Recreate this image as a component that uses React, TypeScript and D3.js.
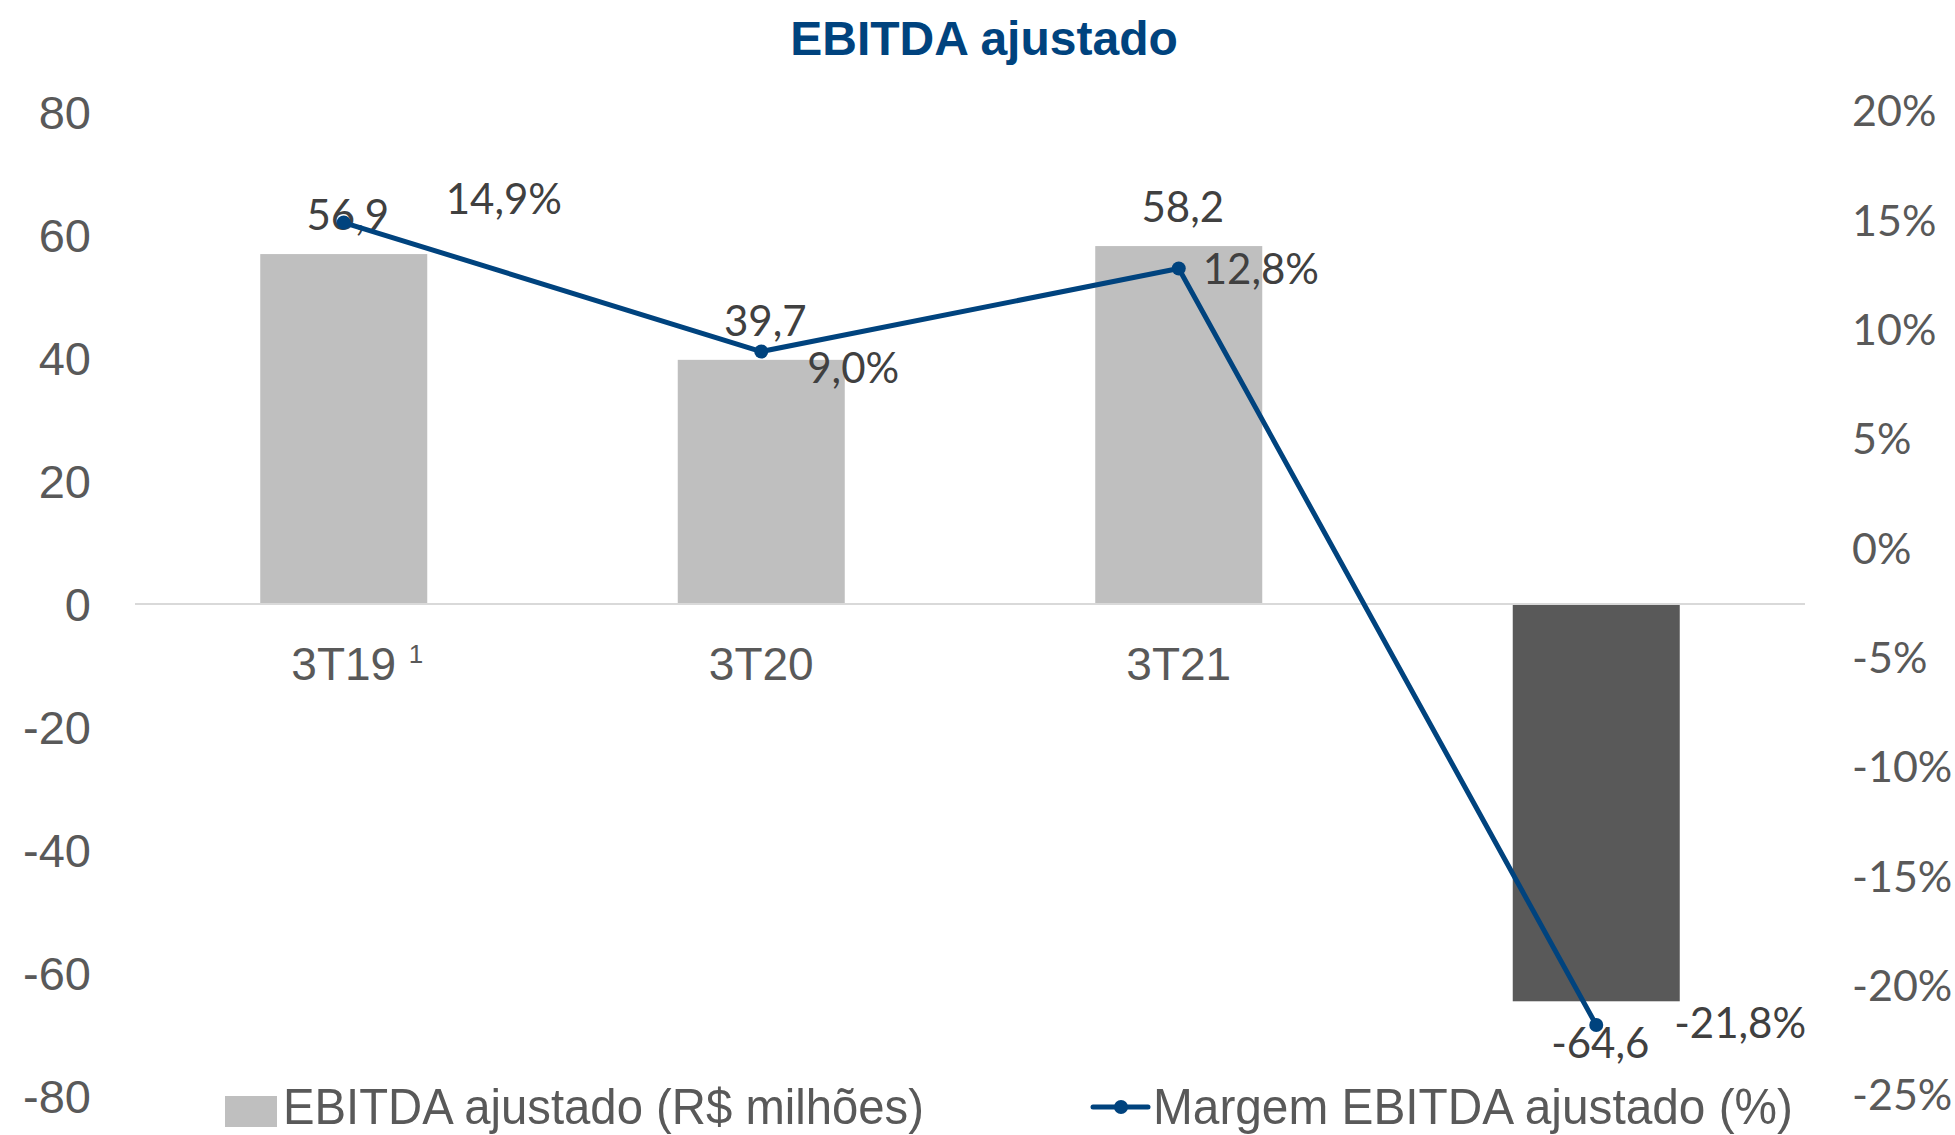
import React from "react";
import * as d3 from "d3";

// ---- data ----
const categories = ["3T19", "3T20", "3T21", ""];
const ebitda = [56.9, 39.7, 58.2, -64.6];
const margem = [0.149, 0.09, 0.128, -0.218];
const barColors = ["#BFBFBF", "#BFBFBF", "#BFBFBF", "#595959"];
const leftTicks = [-80, -60, -40, -20, 0, 20, 40, 60, 80];
const rightTicks = [-0.25, -0.2, -0.15, -0.1, -0.05, 0, 0.05, 0.1, 0.15, 0.2];
const title = "EBITDA ajustado";
const legendBar = "EBITDA ajustado (R$ milhões)";
const legendLine = "Margem EBITDA ajustado (%)";
const footnoteMark = "1";

// label layout offsets for line labels (dx from point to left edge, dy baseline)
const lineLabelOffsets: [number, number][] = [
  [102, -9],
  [46, 31],
  [24, 16],
  [78, 13],
];

const W = 1955;
const H = 1135;

const ptBR = d3.formatLocale({
  decimal: ",",
  thousands: ".",
  grouping: [3],
  currency: ["R$", ""],
  minus: "-",
});
const fmtVal = ptBR.format(".1f");
const fmtPct = ptBR.format(".1%");
const fmtTickPct = (v: number) => `${Math.round(v * 100)}%`;

const AXIS_COLOR = "#595959";
const LABEL_COLOR = "#404040";
const BLUE = "#00437E";
const ARIAL = "'Liberation Sans', Arial, sans-serif";
const CALIBRI = "Lato, 'Open Sans', sans-serif";

export default function App() {
  const x = d3
    .scaleBand<string>()
    .domain(categories.map((c, i) => String(i)))
    .range([135, 1805])
    .paddingInner(0.6)
    .paddingOuter(0.3);
  const yL = d3.scaleLinear().domain([-80, 80]).range([1096, 112]);
  const yR = d3.scaleLinear().domain([-0.25, 0.2]).range([1095, 111]);

  const cx = (i: number) => (x(String(i)) as number) + x.bandwidth() / 2;
  const pts: [number, number][] = margem.map((m, i) => [cx(i), yR(m)]);
  const line = d3.line<[number, number]>()(pts) as string;

  return (
    <svg
      width={W}
      height={H}
      style={{ position: "absolute", left: 0, top: 0, background: "#fff" }}
    >
      <rect x={0} y={0} width={W} height={H} fill="#fff" />
      {/* title */}
      <text
        x={984}
        y={55}
        textAnchor="middle"
        fontFamily={ARIAL}
        fontWeight="bold"
        fontSize={48}
        fill={BLUE}
      >
        {title}
      </text>

      {/* left axis labels */}
      {leftTicks.map((t) => (
        <text
          key={"l" + t}
          x={91}
          y={yL(t)}
          dy="0.36em"
          textAnchor="end"
          fontFamily={ARIAL}
          fontSize={47}
          fill={AXIS_COLOR}
        >
          {t}
        </text>
      ))}

      {/* right axis labels */}
      {rightTicks.map((t) => (
        <text
          key={"r" + t}
          x={1852}
          y={yR(t)}
          dy="0.36em"
          textAnchor="start"
          fontFamily={CALIBRI}
          fontSize={43}
          fill={AXIS_COLOR}
        >
          {fmtTickPct(t)}
        </text>
      ))}

      {/* bars */}
      {ebitda.map((v, i) => (
        <rect
          key={"b" + i}
          x={x(String(i))}
          y={Math.min(yL(v), yL(0))}
          width={x.bandwidth()}
          height={Math.abs(yL(v) - yL(0))}
          fill={barColors[i]}
        />
      ))}

      {/* zero line */}
      <line x1={135} x2={1805} y1={yL(0)} y2={yL(0)} stroke="#D9D9D9" strokeWidth={2} />

      {/* category labels */}
      {categories.map((c, i) => (
        <text
          key={"c" + i}
          x={cx(i)}
          y={680}
          textAnchor="middle"
          fontFamily={ARIAL}
          fontSize={46}
          fill={AXIS_COLOR}
        >
          {c}
        </text>
      ))}
      <text x={cx(0) + 65} y={663} fontFamily={ARIAL} fontSize={26} fill={AXIS_COLOR}>
        {footnoteMark}
      </text>

      {/* bar data labels */}
      {ebitda.map((v, i) => (
        <text
          key={"bl" + i}
          x={cx(i) + 4}
          y={v >= 0 ? yL(v) - 24 : yL(v) + 57}
          textAnchor="middle"
          fontFamily={CALIBRI}
          fontSize={42}
          fill={LABEL_COLOR}
        >
          {fmtVal(v)}
        </text>
      ))}

      {/* line */}
      <path d={line} fill="none" stroke={BLUE} strokeWidth={5} strokeLinejoin="round" />
      {pts.map((p, i) => (
        <circle key={"m" + i} cx={p[0]} cy={p[1]} r={7} fill={BLUE} />
      ))}

      {/* line data labels */}
      {margem.map((m, i) => (
        <text
          key={"ll" + i}
          x={pts[i][0] + lineLabelOffsets[i][0]}
          y={pts[i][1] + lineLabelOffsets[i][1]}
          textAnchor="start"
          fontFamily={CALIBRI}
          fontSize={42}
          fill={LABEL_COLOR}
        >
          {fmtPct(m)}
        </text>
      ))}

      {/* legend */}
      <rect x={225} y={1096} width={52} height={31} fill="#BFBFBF" />
      <text
        x={283}
        y={1124}
        fontFamily={ARIAL}
        fontSize={50}
        fill={AXIS_COLOR}
        textLength={641}
        lengthAdjust="spacingAndGlyphs"
      >
        {legendBar}
      </text>
      <line x1={1093} x2={1148} y1={1107} y2={1107} stroke={BLUE} strokeWidth={5} strokeLinecap="round" />
      <circle cx={1121} cy={1107} r={7} fill={BLUE} />
      <text
        x={1153}
        y={1124}
        fontFamily={ARIAL}
        fontSize={50}
        fill={AXIS_COLOR}
        textLength={640}
        lengthAdjust="spacingAndGlyphs"
      >
        {legendLine}
      </text>
    </svg>
  );
}
